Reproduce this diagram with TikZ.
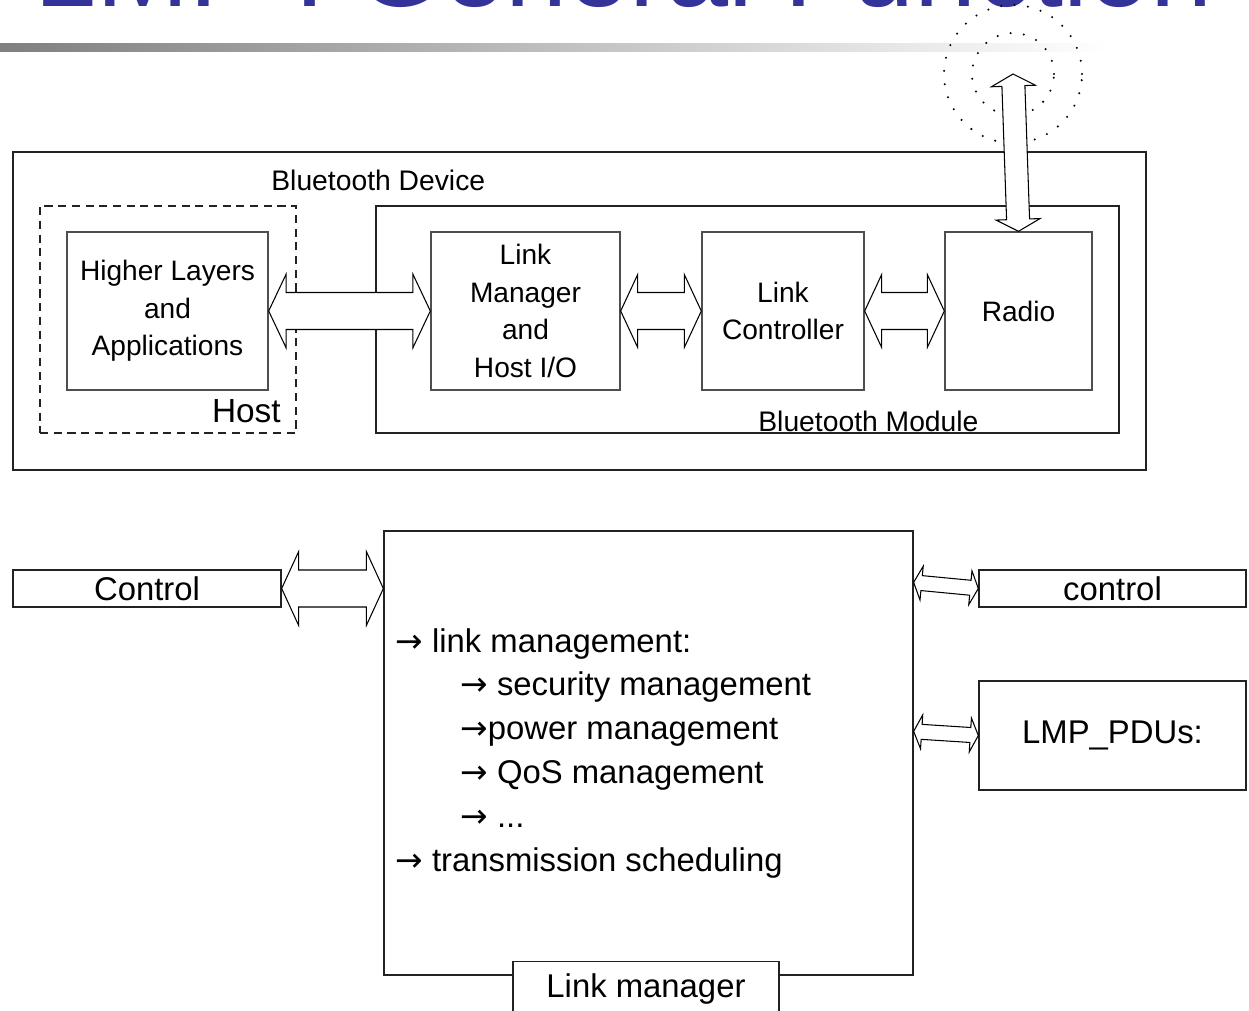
\documentclass[tikz,border=0pt]{standalone}
\usepackage{fontspec}
\setmainfont{Liberation Sans}
\newfontfamily\arrowfont{DejaVu Sans}
\usepackage{tikz}
\usetikzlibrary{calc,positioning}
\definecolor{ttlc}{HTML}{333399}
\definecolor{linec}{HTML}{222222}
\newcommand{\ar}{{\arrowfont →}}
\tikzset{
  frame/.style={draw=linec,line width=0.8pt,inner sep=0pt},
  blk/.style={draw=linec!80,line width=0.8pt,fill=white,inner sep=0pt,align=center,font=\fontsize{16pt}{21.3pt}\selectfont},
  bigblk/.style={draw=linec,line width=0.8pt,fill=white,inner sep=0pt,align=center,font=\fontsize{18.7pt}{24pt}\selectfont},
  fatar/.style={draw=black,fill=white,line width=0.6pt,line join=miter},
  waves/.style={black,line width=1.3pt,line cap=round,dash pattern=on 0pt off 7.6pt},
  lbl/.style={inner sep=0pt,font=\fontsize{16.1pt}{21.3pt}\selectfont},
  biglbl/.style={inner sep=0pt,font=\fontsize{18.7pt}{24pt}\selectfont}
}
% block arrow with two heads: from, to, shaft half width, head half width, head length
\newcommand{\fatarrow}[5]{%
  \draw[fatar] (#1)
    -- ($(#1)!#5!(#2)!#4!90:(#2)$)
    -- ($(#1)!#5!(#2)!#3!90:(#2)$)
    -- ($(#2)!#5!(#1)!#3!-90:(#1)$)
    -- ($(#2)!#5!(#1)!#4!-90:(#1)$)
    -- (#2)
    -- ($(#2)!#5!(#1)!#4!90:(#1)$)
    -- ($(#2)!#5!(#1)!#3!90:(#1)$)
    -- ($(#1)!#5!(#2)!#3!-90:(#2)$)
    -- ($(#1)!#5!(#2)!#4!-90:(#2)$)
    -- cycle;}

\begin{document}
\begin{tikzpicture}[x=0.02cm,y=-0.02cm]
\useasboundingbox (0,0) rectangle (1249,1011);
\clip (0,0) rectangle (1249,1011);
% title strip
\node[anchor=base east,inner sep=0pt,text=ttlc,font=\fontsize{63.5pt}{70pt}\selectfont] (ttl) at (1213,6) {LMP : General Function};
\shade[left color=black!50,right color=white] (0,43) rectangle (1107,51);

% bluetooth device
\node[frame,minimum width=22.66cm,minimum height=6.36cm] (dev) at (579.5,311) {};
\node[lbl,anchor=base west] (devl) at (271,190) {Bluetooth Device};
\node[frame,dashed,dash pattern=on 4.6pt off 3.2pt,minimum width=5.12cm,minimum height=4.54cm] (host) at (168,319.5) {};
\node[inner sep=0pt,anchor=base east,font=\fontsize{19pt}{22pt}\selectfont] (hostl) at (281,422) {Host};
\node[frame,minimum width=14.86cm,minimum height=4.54cm] (mod) at (747.5,319.5) {};
\node[lbl,anchor=base west] (modl) at (758,431) {Bluetooth Module};

\node[blk,minimum width=4.02cm,minimum height=3.16cm] (hl) at (167.5,311) {Higher Layers\\and\\Applications};
\node[blk,minimum width=3.78cm,minimum height=3.16cm] (lmh) at (525.5,311) {Link\\Manager\\and\\Host I/O};
\node[blk,minimum width=3.24cm,minimum height=3.16cm] (lc) at (783,311) {Link\\Controller};
\node[blk,minimum width=2.94cm,minimum height=3.16cm] (radio) at (1018.5,311) {Radio};

% antenna
\coordinate (ant) at (1013,74);
\draw[waves] (ant) circle[radius=0.82cm];
\draw[waves] (ant) circle[radius=1.38cm];
\fatarrow{ant}{radio.north}{0.23cm}{0.44cm}{0.24cm}

\fatarrow{hl.east}{lmh.west}{0.37cm}{0.74cm}{0.35cm}
\fatarrow{lmh.east}{lc.west}{0.37cm}{0.73cm}{0.34cm}
\fatarrow{lc.east}{radio.west}{0.37cm}{0.73cm}{0.34cm}

% link manager
\node[bigblk,minimum width=5.36cm,minimum height=0.74cm] (ctrl) at (147,588.5) {Control};
\node[bigblk,minimum width=10.58cm,minimum height=8.88cm] (lm) at (648.5,753) {};
\node[bigblk,anchor=north,minimum width=5.32cm,minimum height=1.4cm] (tab) at (646,961) {};
\node[biglbl,anchor=base] (tabl) at (646,997) {Link manager};
\node[bigblk,minimum width=5.34cm,minimum height=0.74cm] (ctrlr) at (1112.5,588.5) {control};
\node[bigblk,minimum width=5.34cm,minimum height=2.18cm] (pdu) at (1112.5,735.5) {LMP\_PDUs:};

\foreach \ind/\txt [count=\i from 0] in {0/{\ar{} link management:},1/{\ar{} security management},1/{\ar power management},1/{\ar{} QoS management},1/{\ar{} {...}},0/{\ar{} transmission scheduling}}
  \node[biglbl,anchor=base west] (task\i) at ({395+65*\ind},{652+43.8*\i}) {\txt};

\coordinate (lmc) at (lm.west |- ctrl.east);
\coordinate (lmr1) at ($(lm.north east)+(0,52)$);
\coordinate (lmr2) at ($(lm.north east)+(0,201)$);
\fatarrow{ctrl.east}{lmc}{0.37cm}{0.74cm}{0.34cm}
\fatarrow{lmr1}{ctrlr.west}{0.15cm}{0.34cm}{0.16cm}
\fatarrow{lmr2}{pdu.west}{0.15cm}{0.34cm}{0.16cm}
\end{tikzpicture}
\end{document}
